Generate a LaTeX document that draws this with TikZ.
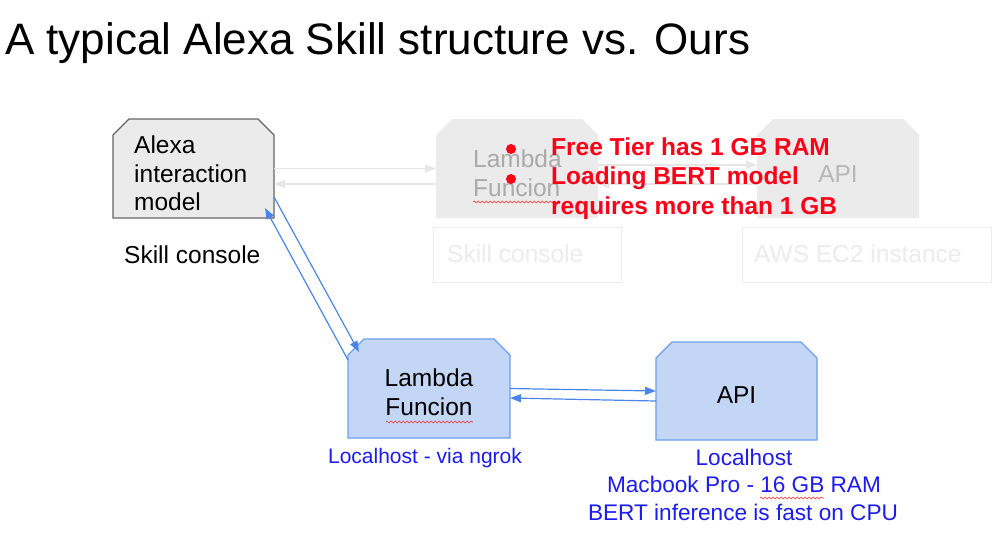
\documentclass[tikz,border=0pt]{standalone}
\usepackage{fontspec}
\setmainfont{Liberation Sans}
\usetikzlibrary{arrows.meta,decorations.pathmorphing,calc}
\definecolor{fadefill}{HTML}{EBEBEB}
\definecolor{fadetext}{HTML}{AAAAAA}
\definecolor{fadeline}{HTML}{ECECEC}
\definecolor{fadearr}{HTML}{E6E6E6}
\definecolor{alexaline}{HTML}{666666}
\definecolor{bluefill}{HTML}{C3D6F5}
\definecolor{blueline}{HTML}{6D9EEB}
\definecolor{bluearr}{HTML}{4A86E8}
\definecolor{bluetext}{HTML}{1C1CF0}
\definecolor{redtext}{HTML}{FF0018}
\definecolor{squig}{HTML}{F03030}
\newcommand{\chamfoutline}[2]{%
  \path[#2] (#1.south west) -- ([yshift=-16pt]#1.north west) -- ([xshift=16pt]#1.north west)
    -- ([xshift=-16pt]#1.north east) -- ([yshift=-16pt]#1.north east) -- (#1.south east) -- cycle;}
\begin{document}
\begin{tikzpicture}[x=1pt,y=-1pt,
  boxnode/.style={rectangle, inner sep=0pt, outer sep=0pt, draw=none},
  fadebox/.style={fill=fadefill, draw=none},
  alexabox/.style={fill=fadefill, draw=alexaline, line width=1.2pt},
  bluebox/.style={fill=bluefill, draw=blueline, line width=1.2pt},
  faderect/.style={rectangle, draw=fadeline, line width=1pt, inner sep=0pt},
  boxtxt/.style={font=\fontsize{24.5}{29}\selectfont, inner sep=0pt},
  lbltxt/.style={font=\fontsize{22.6}{27}\selectfont, inner sep=0pt, text=bluetext},
  redtxt/.style={font=\fontsize{24.5}{29}\selectfont\bfseries, inner sep=0pt, text=redtext},
  fadearrow/.style={draw=fadearr, line width=1.2pt, -{Triangle[length=11pt,width=8pt]}},
  bluearrow/.style={draw=bluearr, line width=1.2pt, -{Triangle[length=11pt,width=8pt]}},
  squiggle/.style={draw=squig, line width=0.6pt, decorate, decoration={snake, amplitude=1pt, segment length=4pt}}
]
\useasboundingbox (0,0) rectangle (1008,539);
\fill[white] (0,0) rectangle (1008,539);

% title
\node[anchor=base west, inner sep=0pt, font=\fontsize{44}{50}\selectfont] (title) at (5,54) {A typical Alexa Skill structure vs. Ours};

% Alexa interaction model
\node[boxnode, minimum width=161pt, minimum height=99pt] (alexa) at (193.5,168.5) {};
\chamfoutline{alexa}{alexabox}
\node[boxtxt, anchor=base west] (alexa1) at (134,153) {Alexa};
\node[boxtxt, anchor=base west] (alexa2) at (134,182) {interaction};
\node[boxtxt, anchor=base west] (alexa3) at (134,210.5) {model};
\node[boxtxt, anchor=base west] (skillc) at (124,263) {Skill console};

% faded typical structure
\node[boxnode, minimum width=162pt, minimum height=99pt] (lambdaF) at (517,168.5) {};
\chamfoutline{lambdaF}{fadebox}
\node[boxtxt, anchor=base west, text=fadetext] (lambdaF1) at (473,167) {Lambda};
\node[boxtxt, anchor=base west, text=fadetext] (lambdaF2) at (473,196) {Funcion};
\draw[squiggle] (473,202) coordinate (sqa1) -- (560,202) coordinate (sqa2);
\node[boxnode, minimum width=162pt, minimum height=99pt] (apiF) at (838,168.5) {};
\chamfoutline{apiF}{fadebox}
\node[boxtxt, anchor=base, text=fadetext!85!white] (apiF1) at (838,182) {API};
\node[faderect, minimum width=188pt, minimum height=55pt] (skillF) at (527,254.5) {};
\node[boxtxt, anchor=base west, text=fadeline] (skillF1) at (447,262) {Skill console};
\node[faderect, minimum width=249pt, minimum height=55pt] (ec2F) at (866.5,254.5) {};
\node[boxtxt, anchor=base west, text=fadeline] (ec2F1) at (754,262) {AWS EC2 instance};

% faded arrows
\draw[fadearrow] (alexa.east) -- (lambdaF.west);
\draw[fadearrow] ([yshift=-15.5pt]lambdaF.west) -- ([yshift=-15.5pt]alexa.east);
\draw[fadearrow] ([yshift=3.5pt]lambdaF.east) -- ([yshift=3.5pt]apiF.west);
\draw[fadearrow] ([yshift=-15.5pt]apiF.west) -- ([yshift=-15.5pt]lambdaF.east);

% red note
\fill[redtext] (511,149) circle (5pt);
\fill[redtext] (511,179) circle (5pt);
\node[redtxt, anchor=base west] (red1) at (551,155) {Free Tier has 1 GB RAM};
\node[redtxt, anchor=base west] (red2) at (551,184.5) {Loading BERT model};
\node[redtxt, anchor=base west] (red3) at (551,214) {requires more than 1 GB};

% our structure
\node[boxnode, minimum width=162pt, minimum height=99pt] (lambda) at (429,388.5) {};
\chamfoutline{lambda}{bluebox}
\node[boxtxt, anchor=base] (lambda1) at (429,386) {Lambda};
\node[boxtxt, anchor=base] (lambda2) at (429,415) {Funcion};
\draw[squiggle] (386,422) coordinate (sqb1) -- (473,422) coordinate (sqb2);
\node[font=\fontsize{21}{25}\selectfont, inner sep=0pt, text=bluetext, anchor=base] (lambdalbl) at (425,463) {Localhost - via ngrok};

\node[boxnode, minimum width=161pt, minimum height=98pt] (api) at (736.5,391) {};
\chamfoutline{api}{bluebox}
\node[boxtxt, anchor=base] (api1) at (736.5,403) {API};
\node[lbltxt, anchor=base] (apil1) at (744,465) {Localhost};
\node[lbltxt, anchor=base] (apil2) at (744,492) {Macbook Pro - 16 GB RAM};
\node[lbltxt, anchor=base] (apil3) at (743,520) {BERT inference is fast on CPU};
\draw[squiggle] (760,498) coordinate (sqc1) -- (824,498) coordinate (sqc2);

% blue arrows
\draw[bluearrow] ([yshift=-28.5pt]alexa.east) -- ($(lambda.center)+(-70,-36.5)$);
\draw[bluearrow] ($(lambda.center)+(-81,-28.5)$) -- ($(alexa.center)+(71.5,39.5)$);
\draw[bluearrow] (lambda.east) -- (api.west);
\draw[bluearrow] ([yshift=-10pt]api.west) -- ([yshift=-9.5pt]lambda.east);
\end{tikzpicture}
\end{document}
